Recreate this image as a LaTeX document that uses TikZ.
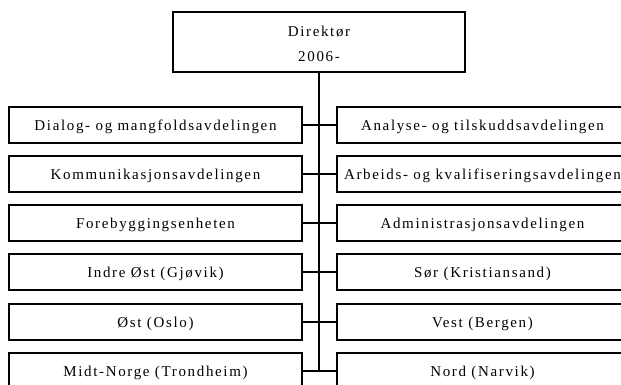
\documentclass[tikz,border=0pt]{standalone}
\usepackage{fontspec}
\setmainfont{Liberation Serif}[LetterSpace=11]
\begin{document}
\begin{tikzpicture}[x=1pt,y=-1pt,
  box/.style={draw=black,line width=1.4pt,fill=white,rectangle,inner sep=0pt,
    minimum height=36pt,font=\fontsize{15}{25}\selectfont,align=center},
  lbox/.style={box,minimum width=293pt,text height=14.6pt,text depth=3pt},
  rbox/.style={box,minimum width=291pt,text height=14.6pt,text depth=3pt},
  topbox/.style={box,minimum width=292pt,minimum height=60pt},
  conn/.style={draw=black,line width=1.5pt}]
\useasboundingbox (0,0) rectangle (621,384);
\clip (0,0) rectangle (621,384);
\node[topbox] (top) at (319,42) {\rule{0pt}{14pt}Direktør\\2006-};
\node[lbox] (L1) at (155.5,125) {Dialog- og mangfoldsavdelingen};
\node[lbox] (L2) at (155.5,174) {Kommunikasjonsavdelingen};
\node[lbox] (L3) at (155.5,223) {Forebyggingsenheten};
\node[lbox] (L4) at (155.5,272) {Indre Øst (Gjøvik)};
\node[lbox] (L5) at (155.5,322) {Øst (Oslo)};
\node[lbox] (L6) at (155.5,371) {Midt-Norge (Trondheim)};
\node[rbox] (R1) at (482.5,125) {Analyse- og tilskuddsavdelingen};
\node[rbox] (R2) at (482.5,174) {Arbeids- og kvalifiseringsavdelingen};
\node[rbox] (R3) at (482.5,223) {Administrasjonsavdelingen};
\node[rbox] (R4) at (482.5,272) {Sør (Kristiansand)};
\node[rbox] (R5) at (482.5,322) {Vest (Bergen)};
\node[rbox] (R6) at (482.5,371) {Nord (Narvik)};
\draw[conn] (top.south) -- (top.south |- L6.east);
\foreach \i in {1,...,6} {\draw[conn] (L\i.east) -- (R\i.west);}
\end{tikzpicture}
\end{document}
